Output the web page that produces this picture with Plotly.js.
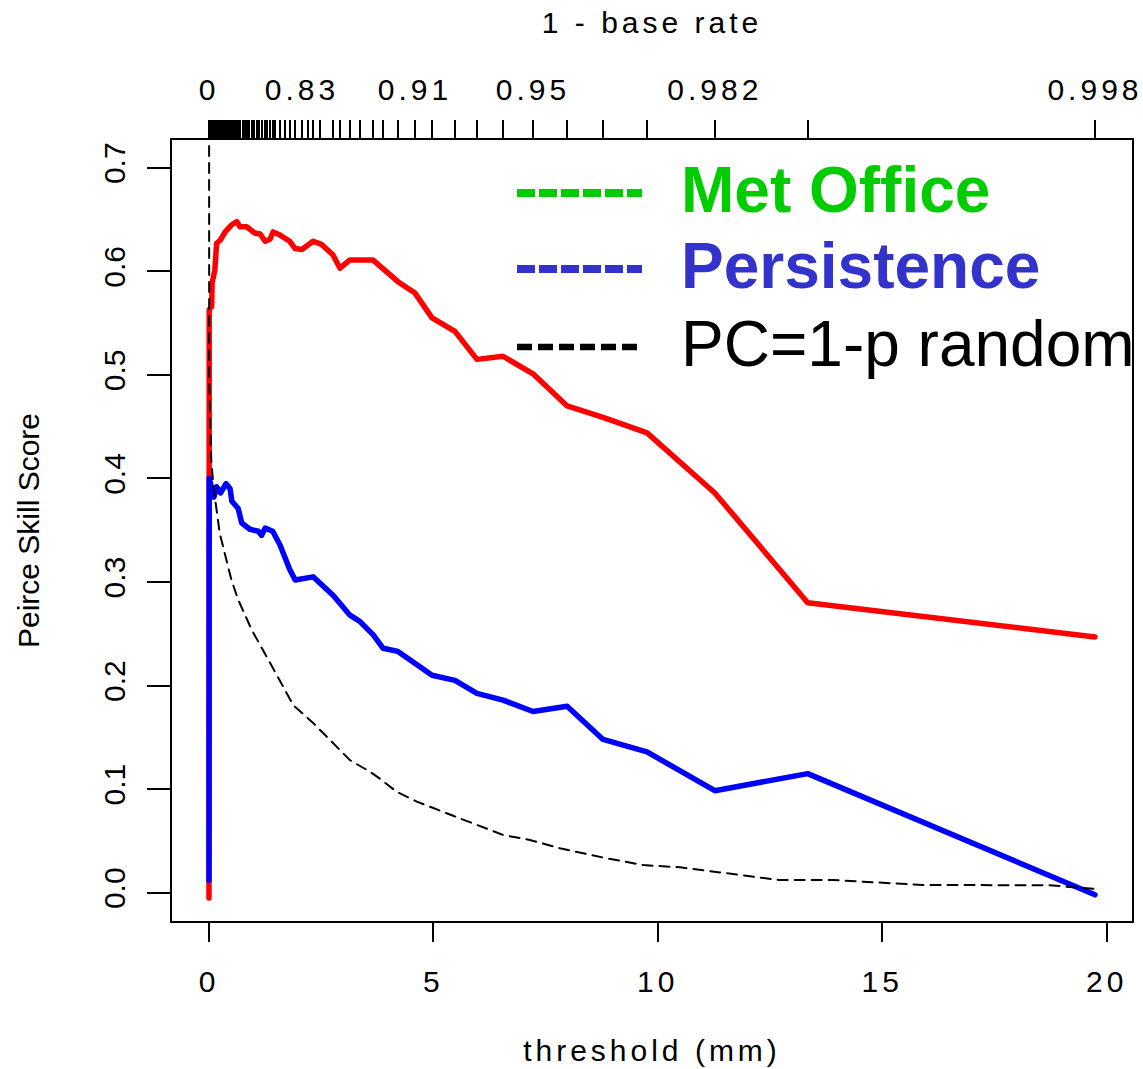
<!DOCTYPE html>
<html>
<head>
<meta charset="utf-8">
<script src="https://cdn.plot.ly/plotly-3.0.1.min.js"></script>
<style>
  html, body { margin: 0; padding: 0; background: #ffffff; }
  #chart { width: 1143px; height: 1069px; }
  .xtick text, .x2tick text, text.xtitle, text.x2title { letter-spacing: 4px; }
  .js-line { stroke-linejoin: round; stroke-linecap: round; }
</style>
</head>
<body>
<div id="chart"></div>
<script>
// ---- data ----
// thresholds (mm) used on the top "1 - base rate" axis
const thresholds = [0, 0.01, 0.02, 0.03, 0.04, 0.05, 0.06, 0.07, 0.08, 0.09, 0.1, 0.12, 0.14, 0.16, 0.18, 0.2, 0.22,
  0.25, 0.28, 0.31, 0.35, 0.38, 0.42, 0.46, 0.5, 0.54, 0.58, 0.62, 0.66, 0.7, 0.75, 0.8, 0.85, 0.9, 0.95, 1.0,
  1.06, 1.12, 1.18, 1.24, 1.3, 1.36, 1.42, 1.47, 1.58, 1.69, 1.80, 1.92, 2.07, 2.21, 2.32, 2.47, 2.76, 2.92,
  3.14, 3.36, 3.65, 3.88, 4.21, 4.59, 4.97, 5.48, 5.97, 6.55, 7.22, 7.98, 8.78, 9.76, 11.27, 13.34, 19.74];
const baseRateLabelAt = [0, 2.07, 4.59, 7.22, 11.27, 19.74];
const baseRateLabels = ['0', '0.83', '0.91', '0.95', '0.982', '0.998'];

const bottomTicks = [0, 5, 10, 15, 20];
const yTicks = [0, 0.1, 0.2, 0.3, 0.4, 0.5, 0.6, 0.7];
const yTickLabels = ['0.0', '0.1', '0.2', '0.3', '0.4', '0.5', '0.6', '0.7'];

// Met Office (red line)
const metX = [0, 0.005, 0.06, 0.07, 0.13, 0.17, 0.25, 0.36, 0.51, 0.62, 0.69, 0.84, 1.02, 1.14, 1.25, 1.36, 1.43,
  1.58, 1.80, 1.92, 2.07, 2.32, 2.51, 2.76, 2.92, 3.14, 3.65, 4.21, 4.59, 4.97, 5.48, 5.97, 6.55, 7.22, 7.98,
  8.78, 9.76, 11.27, 13.34, 19.74];
const metY = [-0.005, 0.563, 0.566, 0.589, 0.601, 0.627, 0.630, 0.638, 0.645, 0.648, 0.643, 0.643, 0.637, 0.636,
  0.629, 0.631, 0.638, 0.635, 0.629, 0.622, 0.621, 0.629, 0.626, 0.616, 0.603, 0.611, 0.611, 0.590, 0.579,
  0.555, 0.542, 0.515, 0.518, 0.501, 0.470, 0.459, 0.444, 0.386, 0.280, 0.247];

// Persistence (blue line)
const perX = [0, 0.005, 0.11, 0.17, 0.26, 0.38, 0.47, 0.51, 0.65, 0.73, 0.91, 1.10, 1.17, 1.25, 1.42, 1.58, 1.80,
  1.92, 2.32, 2.77, 3.14, 3.36, 3.66, 3.88, 4.21, 4.55, 4.97, 5.48, 5.97, 6.55, 7.22, 7.98, 8.78, 9.76, 11.27,
  13.34, 19.74];
const perY = [0.012, 0.400, 0.382, 0.392, 0.386, 0.395, 0.390, 0.378, 0.371, 0.357, 0.351, 0.349, 0.345, 0.352,
  0.349, 0.336, 0.312, 0.302, 0.305, 0.287, 0.268, 0.262, 0.249, 0.236, 0.233, 0.222, 0.210, 0.205, 0.1925,
  0.186, 0.175, 0.180, 0.148, 0.136, 0.0985, 0.115, -0.002];

// PC = 1-p random (black dashed)
const rndX = [0, 0.005, 0.05, 0.10, 0.24, 0.50, 0.65, 0.95, 1.36, 1.69, 1.88, 2.32, 3.14, 3.58, 3.81, 4.18, 4.63,
  5.44, 5.96, 6.56, 7.15, 7.82, 8.86, 9.68, 10.5, 11.8, 12.7, 13.9, 15.9, 18.7, 19.8];
const rndY = [1.0, 0.498, 0.418, 0.392, 0.347, 0.302, 0.283, 0.254, 0.222, 0.196, 0.181, 0.164, 0.128, 0.117,
  0.110, 0.0975, 0.088, 0.0743, 0.0654, 0.0557, 0.0509, 0.0429, 0.0332, 0.0267, 0.0245, 0.017, 0.0123, 0.0123,
  0.0075, 0.0072, 0.0036];

const legendNames = ['Met Office', 'Persistence', 'PC=1-p random'];
const legendColors = ['#00CC00', '#3333CC', '#000000'];

// ---- build top-axis tick text ----
const topText = thresholds.map(t => {
  const i = baseRateLabelAt.indexOf(t);
  return i >= 0 ? baseRateLabels[i] : '';
});

const FONT = '"Liberation Sans", Arial, Helvetica, sans-serif';

const traces = [
  { x: metX, y: metY, mode: 'lines', name: legendNames[0], line: { color: '#FF0000', width: 5.5 }, hoverinfo: 'skip', showlegend: false },
  { x: perX, y: perY, mode: 'lines', name: legendNames[1], line: { color: '#0000FF', width: 5.5 }, hoverinfo: 'skip', showlegend: false },
  { x: rndX, y: rndY, mode: 'lines', name: legendNames[2], line: { color: '#000000', width: 2, dash: '10px,7px' }, hoverinfo: 'skip', showlegend: false },
  { x: thresholds, y: thresholds.map(() => null), xaxis: 'x2', mode: 'lines', hoverinfo: 'skip', showlegend: false }
];

// plot area in pixels
const L = 172, R = 1132, T = 140, B = 921;
const px = v => (v - L) / (R - L);
const py = v => (B - v) / (B - T);

const legendRows = [193, 269, 347];
const legendDash = ['18px,4px', '18px,4px', '15px,6px'];
const legendWidth = [8, 8, 6.5];

const shapes = legendRows.map((yy, i) => ({
  type: 'line', xref: 'paper', yref: 'paper',
  x0: px(517), x1: px(642), y0: py(yy), y1: py(yy),
  line: { color: legendColors[i], width: legendWidth[i], dash: legendDash[i] }
}));

const annotations = legendRows.map((yy, i) => ({
  xref: 'paper', yref: 'paper', x: px(679), y: py(yy - 3),
  xanchor: 'left', yanchor: 'middle', showarrow: false,
  text: i < 2 ? '<b>' + legendNames[i] + '</b>' : legendNames[i],
  font: { family: FONT, size: 64, color: legendColors[i] }
}));

const layout = {
  width: 1143, height: 1069,
  margin: { l: L, r: 1143 - R, t: T, b: 1069 - B, pad: 0 },
  paper_bgcolor: '#ffffff', plot_bgcolor: '#ffffff',
  font: { family: FONT, size: 30, color: '#000000' },
  showlegend: false,
  xaxis: {
    range: [-0.824, 20.565], tickmode: 'array', tickvals: bottomTicks, ticktext: bottomTicks.map(String),
    ticks: 'outside', ticklen: 19, tickwidth: 2, tickcolor: '#000',
    showline: true, linewidth: 2, linecolor: '#000', mirror: true,
    showgrid: false, zeroline: false, ticklabelstandoff: 14,
    tickfont: { family: FONT, size: 30 },
    title: { text: 'threshold (mm)', font: { family: FONT, size: 30 }, standoff: 43 }
  },
  xaxis2: {
    overlaying: 'x', side: 'top', anchor: 'y',
    range: [-0.824, 20.565], tickmode: 'array', tickvals: thresholds, ticktext: topText, tickangle: 0,
    ticks: 'outside', ticklen: 19, tickwidth: 2, tickcolor: '#000',
    showline: false, showgrid: false, zeroline: false, ticklabelstandoff: 8,
    tickfont: { family: FONT, size: 30 },
    title: { text: '1 - base rate', font: { family: FONT, size: 30 }, standoff: 30 }
  },
  yaxis: {
    range: [-0.0273, 0.7268], tickmode: 'array', tickvals: yTicks, ticktext: yTickLabels, tickangle: -90,
    ticks: 'outside', ticklen: 23, tickwidth: 2, tickcolor: '#000',
    showline: true, linewidth: 2, linecolor: '#000', mirror: true,
    showgrid: false, zeroline: false, ticklabelstandoff: 10,
    tickfont: { family: FONT, size: 30 },
    title: { text: 'Peirce Skill Score', font: { family: FONT, size: 30 }, standoff: 50 }
  },
  shapes: shapes,
  annotations: annotations
};

Plotly.newPlot('chart', traces, layout, { staticPlot: true, displayModeBar: false });
</script>
</body>
</html>
